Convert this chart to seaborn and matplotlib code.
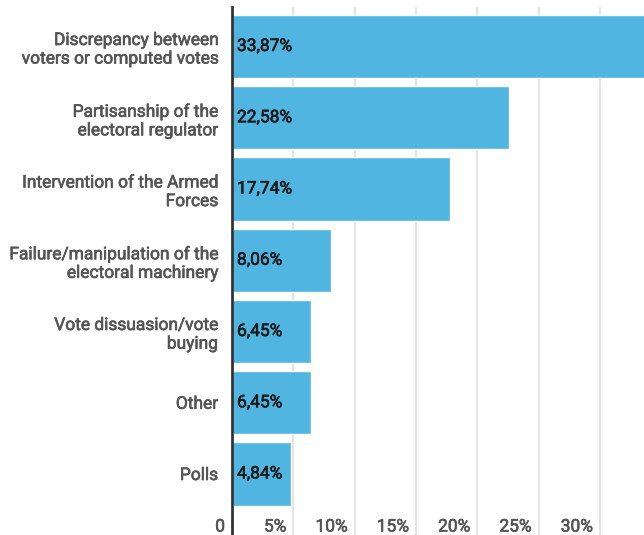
import matplotlib
matplotlib.use("Agg")
import matplotlib.pyplot as plt
import matplotlib.patheffects as pe
import seaborn as sns

categories = [
    "Discrepancy between\nvoters or computed votes",
    "Partisanship of the\nelectoral regulator",
    "Intervention of the Armed\nForces",
    "Failure/manipulation of the\nelectoral machinery",
    "Vote dissuasion/vote\nbuying",
    "Other",
    "Polls",
]
values = [33.87, 22.58, 17.74, 8.06, 6.45, 6.45, 4.84]
value_labels = ["33,87%", "22,58%", "17,74%", "8,06%", "6,45%", "6,45%", "4,84%"]
x_ticks = [0, 5, 10, 15, 20, 25, 30]
x_tick_labels = ["0", "5%", "10%", "15%", "20%", "25%", "30%"]

BAR_COLOR = "#51b5e1"
GREY = "#555555"


def medium(color):
    # Roboto Medium isn't installed, fake the heavier weight with a thin stroke
    return [pe.withStroke(linewidth=0.45, foreground=color)]


sns.set_style("white")
plt.rcParams["font.family"] = ["Roboto", "DejaVu Sans"]

fig = plt.figure(figsize=(6.44, 5.35), dpi=100)
ax = fig.add_axes([232 / 644, 0.0, 1 - 232 / 644, 1 - 7 / 535])

sns.barplot(x=values, y=categories, orient="h", color=BAR_COLOR,
            width=0.89, saturation=1, ax=ax, zorder=2)

ax.set_xlim(0, 33.6)
ax.set_ylim(6.856, -0.554)
ax.set_xlabel("")
ax.set_ylabel("")

# vertical gridlines, full height
ax.set_xticks(x_ticks)
ax.xaxis.grid(True, color="#dddddd", linewidth=1.2, zorder=0)
ax.set_axisbelow(True)
ax.tick_params(axis="x", length=0, labelbottom=False)
ax.tick_params(axis="y", length=0, pad=10)

for t, lab in zip(x_ticks, x_tick_labels):
    ax.annotate(lab, xy=(t, 0), xycoords=ax.get_xaxis_transform(),
                xytext=(-7, 8), textcoords="offset pixels",
                ha="right", va="center", fontsize=12.5,
                color=GREY, path_effects=medium(GREY))

for lbl in ax.get_yticklabels():
    lbl.set_fontsize(12.5)
    lbl.set_color(GREY)
    lbl.set_ha("right")
    lbl.set_multialignment("right")
    lbl.set_linespacing(1.3)
    lbl.set_path_effects(medium(GREY))

for p, lab in zip(ax.patches, value_labels):
    yc = p.get_y() + p.get_height() / 2
    ax.annotate(lab, xy=(0, yc), xytext=(5, 0), textcoords="offset pixels",
                ha="left", va="center", fontsize=12.5,
                color="#1a1a1a", zorder=3, path_effects=medium("#1a1a1a"))

for s in ["top", "right", "bottom"]:
    ax.spines[s].set_visible(False)
ax.spines["left"].set_color("#333333")
ax.spines["left"].set_linewidth(2)
ax.spines["left"].set_zorder(4)

fig.savefig("out.png", dpi=100)
